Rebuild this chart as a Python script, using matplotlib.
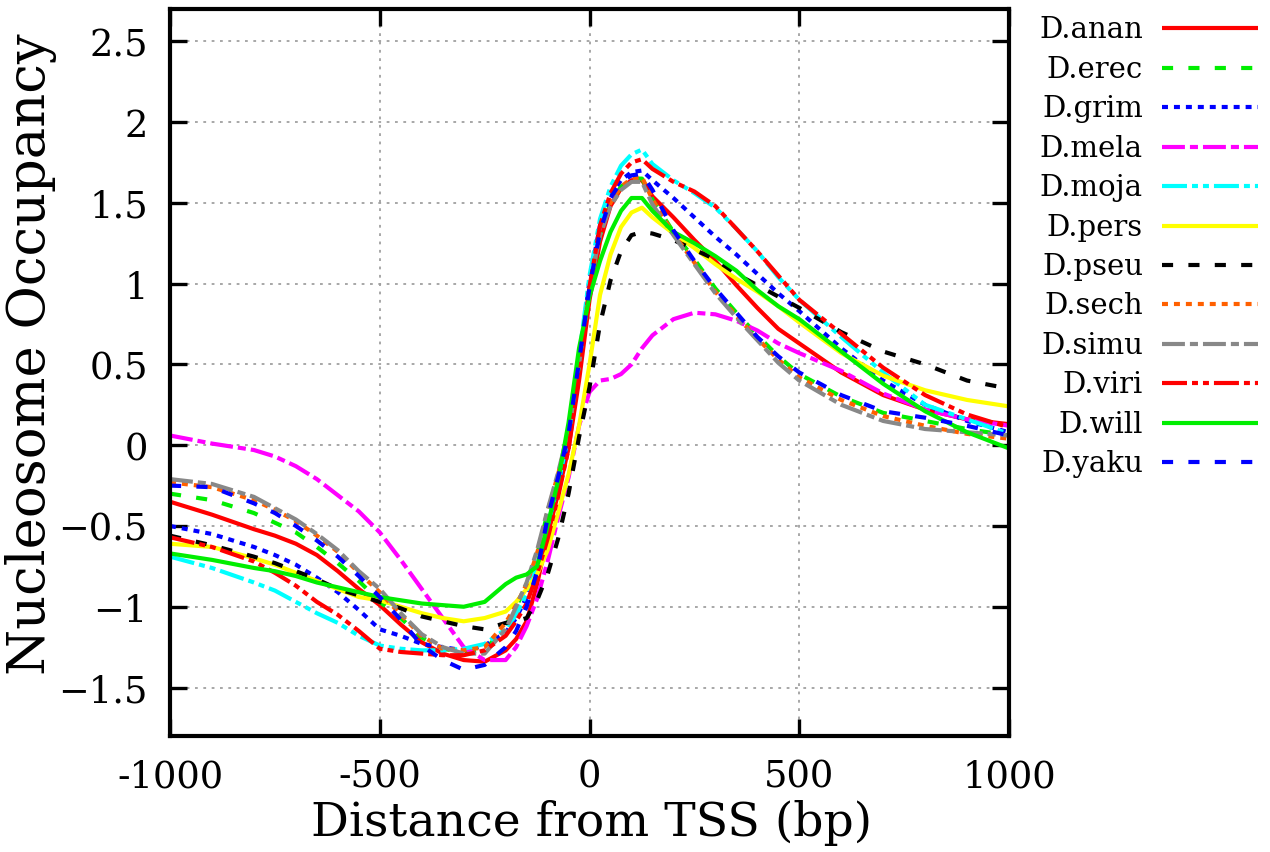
import matplotlib
matplotlib.use("Agg")
import matplotlib.pyplot as plt
from matplotlib.lines import Line2D

# distance from TSS (bp)
dist = [-1000, -900, -800, -750, -700, -650, -600, -550, -500, -450, -400, -350, -300, -250, -200, -175,
        -150, -125, -100, -75, -50, -25, 0, 25, 50, 75, 100, 125, 150, 200, 250, 300,
        350, 400, 450, 500, 600, 700, 800, 900, 1000]

anan = [-0.35, -0.43, -0.52, -0.56, -0.61, -0.68, -0.78, -0.89, -0.99, -1.11, -1.22, -1.29, -1.33, -1.34, -1.27, -1.20,
        -1.09, -0.86, -0.56, -0.30, -0.02, 0.40, 0.90, 1.26, 1.48, 1.59, 1.64, 1.64, 1.54, 1.41, 1.27, 1.14,
        0.99, 0.85, 0.72, 0.63, 0.45, 0.31, 0.22, 0.16, 0.13]
erec = [-0.30, -0.34, -0.42, -0.48, -0.54, -0.63, -0.73, -0.84, -0.97, -1.07, -1.19, -1.26, -1.28, -1.27, -1.12, -1.00,
        -0.87, -0.68, -0.42, -0.19, 0.07, 0.50, 0.97, 1.30, 1.50, 1.60, 1.65, 1.65, 1.52, 1.32, 1.15, 0.97,
        0.82, 0.68, 0.55, 0.44, 0.30, 0.20, 0.15, 0.10, 0.06]
grim = [-0.50, -0.55, -0.63, -0.68, -0.74, -0.82, -0.91, -1.02, -1.14, -1.18, -1.23, -1.25, -1.27, -1.24, -1.16, -1.07,
        -0.94, -0.75, -0.50, -0.25, 0.05, 0.52, 1.02, 1.36, 1.55, 1.64, 1.69, 1.70, 1.64, 1.53, 1.41, 1.29,
        1.18, 1.06, 0.94, 0.83, 0.60, 0.40, 0.25, 0.15, 0.08]
mela = [0.06, 0.01, -0.03, -0.07, -0.13, -0.21, -0.31, -0.41, -0.54, -0.71, -0.89, -1.07, -1.25, -1.33, -1.33, -1.25,
        -1.12, -0.95, -0.72, -0.45, -0.20, 0.12, 0.33, 0.40, 0.41, 0.44, 0.50, 0.60, 0.68, 0.78, 0.82, 0.81,
        0.77, 0.71, 0.63, 0.57, 0.46, 0.32, 0.22, 0.16, 0.12]
moja = [-0.69, -0.76, -0.85, -0.90, -0.97, -1.04, -1.10, -1.18, -1.24, -1.26, -1.27, -1.27, -1.26, -1.23, -1.14, -1.05,
        -0.92, -0.74, -0.50, -0.24, 0.06, 0.55, 1.05, 1.40, 1.60, 1.73, 1.80, 1.83, 1.74, 1.64, 1.56, 1.47,
        1.34, 1.20, 1.04, 0.90, 0.67, 0.45, 0.25, 0.16, 0.07]
pers = [-0.61, -0.63, -0.70, -0.74, -0.79, -0.84, -0.89, -0.94, -0.96, -1.00, -1.04, -1.07, -1.09, -1.07, -1.03, -0.97,
        -0.89, -0.80, -0.65, -0.42, -0.18, 0.12, 0.50, 0.93, 1.18, 1.35, 1.44, 1.47, 1.41, 1.31, 1.22, 1.12,
        1.03, 0.95, 0.86, 0.76, 0.57, 0.43, 0.34, 0.28, 0.24]
pseu = [-0.56, -0.62, -0.69, -0.73, -0.78, -0.83, -0.89, -0.93, -0.97, -1.01, -1.06, -1.09, -1.12, -1.14, -1.10, -1.09,
        -1.07, -0.96, -0.80, -0.58, -0.30, 0.05, 0.36, 0.75, 1.02, 1.20, 1.30, 1.32, 1.31, 1.27, 1.21, 1.15,
        1.06, 0.99, 0.92, 0.85, 0.70, 0.58, 0.50, 0.40, 0.35]
sech = [-0.23, -0.26, -0.34, -0.40, -0.47, -0.56, -0.66, -0.79, -0.91, -1.05, -1.18, -1.26, -1.27, -1.25, -1.10, -0.99,
        -0.86, -0.67, -0.41, -0.18, 0.08, 0.50, 0.98, 1.31, 1.50, 1.60, 1.65, 1.66, 1.52, 1.31, 1.13, 0.95,
        0.80, 0.66, 0.53, 0.42, 0.28, 0.18, 0.12, 0.07, 0.04]
simu = [-0.21, -0.24, -0.32, -0.39, -0.46, -0.55, -0.65, -0.78, -0.89, -1.04, -1.17, -1.25, -1.29, -1.29, -1.14, -1.00,
        -0.85, -0.65, -0.40, -0.17, 0.09, 0.50, 0.98, 1.30, 1.48, 1.58, 1.63, 1.63, 1.49, 1.30, 1.12, 0.94,
        0.79, 0.65, 0.51, 0.40, 0.25, 0.15, 0.10, 0.08, 0.06]
viri = [-0.57, -0.63, -0.72, -0.79, -0.87, -0.97, -1.05, -1.15, -1.26, -1.28, -1.29, -1.30, -1.30, -1.27, -1.18, -1.09,
        -0.98, -0.80, -0.58, -0.32, -0.02, 0.45, 0.98, 1.36, 1.56, 1.68, 1.75, 1.77, 1.71, 1.63, 1.57, 1.48,
        1.34, 1.20, 1.05, 0.90, 0.69, 0.48, 0.31, 0.19, 0.11]
will = [-0.67, -0.71, -0.76, -0.78, -0.81, -0.85, -0.88, -0.91, -0.94, -0.96, -0.98, -0.99, -1.00, -0.97, -0.86, -0.82,
        -0.80, -0.75, -0.50, -0.22, 0.14, 0.60, 0.92, 1.14, 1.32, 1.45, 1.53, 1.53, 1.45, 1.32, 1.25, 1.17,
        1.08, 0.96, 0.86, 0.78, 0.58, 0.38, 0.21, 0.08, -0.02]
yaku = [-0.25, -0.26, -0.36, -0.42, -0.50, -0.59, -0.69, -0.81, -0.94, -1.08, -1.24, -1.33, -1.39, -1.36, -1.25, -1.15,
        -1.00, -0.78, -0.45, -0.20, 0.07, 0.52, 0.98, 1.32, 1.53, 1.63, 1.67, 1.68, 1.58, 1.33, 1.14, 0.97,
        0.82, 0.67, 0.55, 0.45, 0.31, 0.21, 0.17, 0.12, 0.06]

names = ["D.anan", "D.erec", "D.grim", "D.mela", "D.moja", "D.pers",
         "D.pseu", "D.sech", "D.simu", "D.viri", "D.will", "D.yaku"]
series = [anan, erec, grim, mela, moja, pers, pseu, sech, simu, viri, will, yaku]

# gnuplot-like line styles (dash lengths in points)
solid = (0, ())
dashed = (0, (8, 11))
dotted = (0, (4.3, 4.3))
dashdot = (0, (16.5, 3.6, 5.8, 3.6))
dashdotdot = (0, (18, 3.6, 4.3, 3.6, 4.3, 3.6))
colors = ["#ff0000", "#00ee00", "#0000ff", "#ff00ff", "#00ffff", "#ffff00",
          "#000000", "#ff6000", "#888888", "#ff0000", "#00ee00", "#0000ff"]
styles = [solid, dashed, dotted, dashdot, dashdotdot, solid,
          dashed, dotted, dashdot, dashdotdot, solid, dashed]

plt.rcParams['font.family'] = ['DejaVu Serif']
plt.rcParams['lines.scale_dashes'] = False

fig = plt.figure(figsize=(12.7, 8.53), dpi=100)
ax = fig.add_axes([0.1339, 0.1360, 0.6606, 0.8523])

lw = 3.0
for y, c, ls in zip(series, colors, styles):
    ax.plot(dist, y, color=c, linestyle=ls, linewidth=lw, dash_capstyle='butt')

ax.set_xlim(-1000, 1000)
ax.set_ylim(-1.8, 2.7)
ax.set_xticks([-1000, -500, 0, 500, 1000])
ax.set_xticklabels(["-1000", "-500", "0", "500", "1000"])
ax.set_yticks([-1.5, -1, -0.5, 0, 0.5, 1, 1.5, 2, 2.5])
ax.set_yticklabels(["\u22121.5", "\u22121", "\u22120.5", "0", "0.5", "1", "1.5", "2", "2.5"])
ax.grid(True, color="#a0a0a0", linestyle=(0, (2, 4)), linewidth=1.3)
ax.tick_params(direction='in', length=12, width=2.4, labelsize=26.5, pad=16,
               top=True, right=True)
for sp in ax.spines.values():
    sp.set_linewidth(3.0)

ax.set_xlabel("Distance from TSS (bp)", fontsize=34)
ax.xaxis.set_label_coords(0.503, -0.087)
ax.set_ylabel("Nucleosome Occupancy", fontsize=38)
ax.yaxis.set_label_coords(-0.135, 0.527)

# legend outside on the right, text right-aligned before the sample line
W, H = 1270.0, 853.0
for i, (name, c, ls) in enumerate(zip(names, colors, styles)):
    ypx = 29.3 + i * 39.45
    fig.text(1143 / W, 1 - (ypx + 9) / H, name, ha='right', va='baseline', fontsize=21)
    fig.add_artist(Line2D([1162 / W, 1258 / W], [1 - ypx / H, 1 - ypx / H],
                          transform=fig.transFigure, color=c, linestyle=ls,
                          linewidth=lw, dash_capstyle='butt'))

fig.savefig("out.png", dpi=100)
